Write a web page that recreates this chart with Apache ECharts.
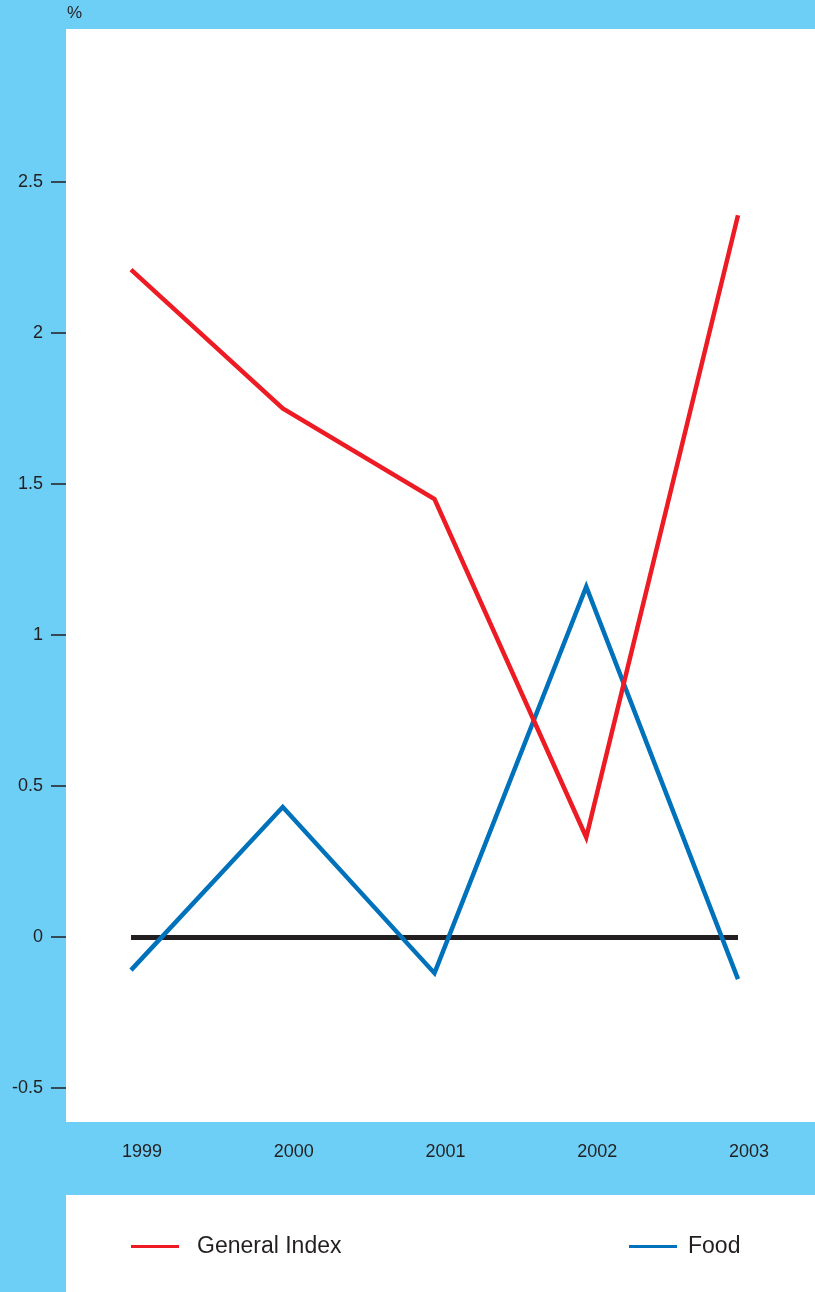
<!DOCTYPE html>
<html>
<head>
<meta charset="utf-8">
<script src="https://cdn.jsdelivr.net/npm/echarts@6/dist/echarts.min.js"></script>
<style>
  html, body { margin: 0; padding: 0; background: #6dcff6; }
  #chart { width: 815px; height: 1292px; }
</style>
</head>
<body>
<div id="chart"></div>
<script>
// Annual change, %
const years = ['1999', '2000', '2001', '2002', '2003'];
const generalIndex = [2.21, 1.75, 1.45, 0.33, 2.39];
const food = [-0.11, 0.43, -0.12, 1.16, -0.14];
const yTicks = [-0.5, 0, 0.5, 1, 1.5, 2, 2.5];

const RED = '#ed1c24';
const BLUE = '#0072bc';
const INK = '#231f20';
const FONT = '"Liberation Sans", Arial, sans-serif';

const chart = echarts.init(document.getElementById('chart'), null, { renderer: 'canvas' });

chart.setOption({
  backgroundColor: '#6dcff6',
  animation: false,
  graphic: [
    // white plotting panel
    { type: 'rect', left: 66, top: 29, shape: { width: 749, height: 1093 }, style: { fill: '#ffffff' }, z: -10 },
    // white legend panel
    { type: 'rect', left: 66, top: 1195, shape: { width: 749, height: 97 }, style: { fill: '#ffffff' }, z: -10 },
    { type: 'text', left: 67, top: 5, style: { text: '%', fontFamily: FONT, fontSize: 17, fill: INK } }
  ],
  grid: { left: 131, right: 77, top: 29, bottom: 170 },
  xAxis: {
    type: 'category',
    data: years,
    boundaryGap: false,
    axisLine: { show: false },
    axisTick: { show: false },
    axisLabel: {
      margin: 21,
      color: INK,
      fontFamily: FONT,
      fontSize: 18,
      padding: [0, 0, 0, 22]
    },
    splitLine: { show: false }
  },
  yAxis: {
    type: 'value',
    min: -0.613,
    max: 3.007,
    offset: 65,
    axisLine: { show: false },
    axisTick: { show: true, length: 15, customValues: yTicks, lineStyle: { color: INK, width: 1.5 } },
    axisLabel: {
      customValues: yTicks,
      margin: 23,
      color: INK,
      fontFamily: FONT,
      fontSize: 18
    },
    splitLine: { show: false }
  },
  legend: [
    {
      data: ['General Index'],
      left: 131, top: 1235, padding: 0,
      icon: 'rect', itemWidth: 48, itemHeight: 3,
      textStyle: { color: INK, fontFamily: FONT, fontSize: 23, padding: [0, 0, 0, 13] }
    },
    {
      data: ['Food'],
      left: 629, top: 1235, padding: 0,
      icon: 'rect', itemWidth: 48, itemHeight: 3,
      textStyle: { color: INK, fontFamily: FONT, fontSize: 23, padding: [0, 0, 0, 6] }
    }
  ],
  series: [
    {
      name: 'Food',
      type: 'line',
      data: food,
      color: BLUE,
      symbol: 'none',
      lineStyle: { color: BLUE, width: 4.5, cap: 'butt', join: 'miter' },
      z: 3,
      markLine: {
        silent: true,
        symbol: 'none',
        z: 2,
        label: { show: false },
        lineStyle: { color: INK, width: 5, type: 'solid' },
        data: [{ yAxis: 0 }]
      }
    },
    {
      name: 'General Index',
      type: 'line',
      data: generalIndex,
      color: RED,
      symbol: 'none',
      lineStyle: { color: RED, width: 4.5, cap: 'butt', join: 'miter' },
      z: 4
    }
  ]
});
</script>
</body>
</html>
